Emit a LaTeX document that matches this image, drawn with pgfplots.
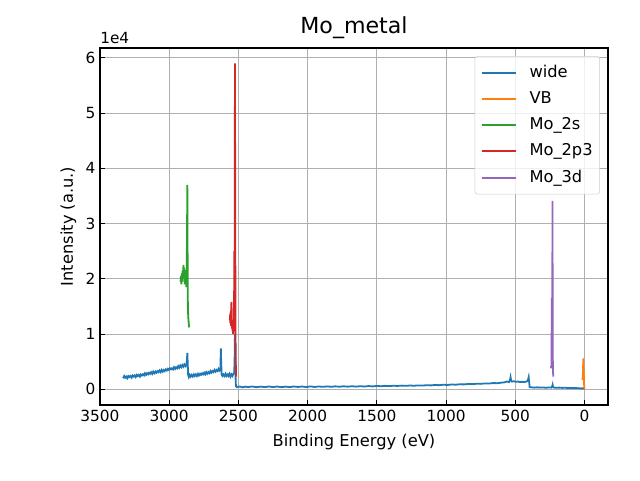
\documentclass[border=0pt]{standalone}
\usepackage{pgfplots}
\pgfplotsset{compat=1.18}
\usepackage{fontspec}
\setmainfont{DejaVu Sans}
\definecolor{c0}{HTML}{1F77B4}
\definecolor{c1}{HTML}{FF7F0E}
\definecolor{c2}{HTML}{2CA02C}
\definecolor{c3}{HTML}{D62728}
\definecolor{c4}{HTML}{9467BD}
\definecolor{gridc}{HTML}{B0B0B0}
\definecolor{legc}{HTML}{CCCCCC}
\begin{document}
\begin{tikzpicture}
\useasboundingbox (-75pt,-56.25pt) rectangle (405pt,303.75pt);
\begin{axis}[
  width=381pt, height=267.75pt, scale only axis,
  x dir=reverse,
  xmin=-170, xmax=3500,
  ymin=-0.285, ymax=6.18,
  xtick={0,500,1000,1500,2000,2500,3000,3500},
  ytick={0,1,2,3,4,5,6},
  /pgf/number format/assume math mode=true,
  /pgf/number format/set thousands separator={},
  tick label style={font=\fontsize{11.5}{13}\selectfont},
  label style={font=\fontsize{12.2}{14}\selectfont},
  xlabel style={yshift=-3pt},
  title style={font=\fontsize{16.6}{18}\selectfont, at={(0.5,1)}, anchor=base, yshift=5pt},
  title={Mo\_metal},
  xlabel={Binding Energy (eV)},
  ylabel={Intensity (a.u.)},
  tick align=inside,
  xtick pos=bottom, ytick pos=left,
  major tick length=3.6pt,
  every tick/.style={black, line width=0.8pt},
  axis line style={line width=0.8pt},
  grid=major,
  major grid style={gridc, line width=0.8pt},
  legend cell align=left,
  legend style={at={(1,1)}, anchor=north east, xshift=-6pt, yshift=-6pt,
    draw=legc, rounded corners=2pt, fill=white, fill opacity=0.8, text opacity=1,
    font=\fontsize{12.2}{14}\selectfont, row sep=4.7pt,
    inner xsep=4.3pt, inner ysep=4.8pt,
    nodes={inner xsep=1pt, inner ysep=2pt, text height=8.8pt, text depth=2.2pt},
    /tikz/every odd column/.append style={column sep=8.5pt}},
  legend image code/.code={\draw[#1, line width=1.5pt, draw opacity=1] (0pt,0pt) -- (25.7pt,0pt);},
  every axis plot/.append style={line width=1.35pt},
  clip=false,
]
\addplot[color=c0] coordinates {
(3333,0.20) (3325,0.24) (3318,0.21) (3310,0.23) (3303,0.20) (3295,0.24) (3288,0.22) (3280,0.24) (3272,0.21)
(3265,0.25) (3257,0.23) (3250,0.25) (3242,0.22) (3235,0.26) (3227,0.24) (3220,0.26) (3212,0.23) (3205,0.27)
(3197,0.25) (3190,0.27) (3182,0.25) (3175,0.29) (3167,0.26) (3160,0.29) (3152,0.27) (3145,0.30) (3137,0.28)
(3130,0.31) (3122,0.28) (3115,0.32) (3107,0.29) (3100,0.32) (3092,0.30) (3085,0.33) (3077,0.31) (3070,0.34)
(3062,0.31) (3055,0.35) (3047,0.32) (3040,0.35) (3032,0.33) (3025,0.36) (3017,0.34) (3010,0.37) (3002,0.35)
(2995,0.38) (2987,0.36) (2980,0.38) (2972,0.36) (2965,0.40) (2957,0.37) (2950,0.40) (2942,0.38) (2935,0.42)
(2927,0.39) (2920,0.43) (2912,0.40) (2905,0.44) (2897,0.41) (2890,0.45) (2882,0.42) (2876,0.45)
(2872,0.52) (2869,0.66) (2866,0.45) (2863,0.26) (2858,0.22) (2852,0.26) (2845,0.23) (2838,0.26) (2830,0.23)
(2822,0.27) (2815,0.24) (2807,0.27) (2800,0.24) (2792,0.28) (2785,0.25) (2777,0.28) (2770,0.26) (2762,0.29)
(2755,0.27) (2747,0.30) (2740,0.27) (2732,0.31) (2725,0.28) (2717,0.31) (2710,0.29) (2702,0.33) (2695,0.30)
(2687,0.33) (2680,0.31) (2672,0.35) (2665,0.32) (2657,0.35) (2650,0.33) (2643,0.37) (2636,0.34) (2630,0.36)
(2627,0.74) (2624,0.45) (2621,0.26) (2615,0.24) (2608,0.27) (2600,0.24) (2593,0.28) (2586,0.24) (2578,0.27)
(2571,0.24) (2564,0.28) (2557,0.23) (2550,0.27) (2543,0.24) (2536,0.28) (2530,0.30)
(2527,0.60) (2525,1.00) (2523,0.70) (2521,0.25) (2518,0.06) (2512,0.04)
(2490,0.05) (2470,0.035) (2450,0.048) (2430,0.04) (2400,0.05) (2370,0.038) (2340,0.048) (2310,0.04)
(2280,0.05) (2250,0.04) (2220,0.05) (2190,0.038) (2160,0.048) (2130,0.04) (2100,0.05) (2070,0.042)
(2040,0.05) (2010,0.04) (1980,0.052) (1950,0.042) (1920,0.05) (1890,0.044) (1860,0.052) (1830,0.045)
(1800,0.053) (1770,0.046) (1740,0.054) (1710,0.047) (1680,0.055) (1650,0.048) (1620,0.056) (1590,0.05)
(1560,0.058) (1530,0.052) (1500,0.06) (1470,0.055) (1440,0.062) (1410,0.057) (1380,0.064) (1350,0.06)
(1320,0.066) (1290,0.062) (1260,0.068) (1230,0.064) (1200,0.07) (1170,0.067) (1140,0.074) (1110,0.07)
(1080,0.078) (1050,0.074) (1020,0.082) (990,0.078) (960,0.086) (930,0.083) (900,0.09) (870,0.088)
(840,0.096) (810,0.093) (780,0.10) (750,0.098) (720,0.106) (690,0.104) (660,0.112) (630,0.11)
(600,0.12) (580,0.125) (560,0.14) (545,0.13) (538,0.17) (534,0.22) (530,0.16) (525,0.14)
(510,0.145) (495,0.135) (480,0.14) (465,0.13) (450,0.135) (435,0.13) (420,0.14) (410,0.15)
(403,0.22) (399,0.12) (396,0.04) (380,0.035) (360,0.03) (340,0.035) (320,0.03) (300,0.033)
(280,0.028) (260,0.032) (240,0.03) (233,0.05) (230,0.08) (227,0.04) (220,0.03) (200,0.028)
(180,0.03) (160,0.025) (140,0.028) (120,0.022) (100,0.025) (80,0.02) (60,0.022) (40,0.018)
(20,0.015) (10,0.02) (5,0.01) (0,0.005)
};
\addlegendentry{wide}
\addplot[color=c1] coordinates {
(14,0.17) (12,0.25) (10,0.32) (9,0.56) (7,0.4) (5,0.3) (3,0.1) (1,0.03) (-1,0.01) (-3,0.005)
};
\addlegendentry{VB}
\addplot[color=c2] coordinates {
(2918,1.95) (2915,2.05) (2912,1.9) (2909,2.1) (2906,1.95) (2903,2.15) (2900,2.0) (2897,2.25)
(2894,2.05) (2891,2.2) (2888,1.9) (2885,2.1) (2882,1.95) (2879,2.05) (2876,1.85) (2873,2.3)
(2871,2.9) (2869,3.7) (2867,2.4) (2865,1.45) (2862,1.3) (2859,1.2) (2856,1.12)
};
\addlegendentry{Mo\_2s}
\addplot[color=c3] coordinates {
(2562,1.25) (2560,1.35) (2558,1.2) (2556,1.4) (2554,1.15) (2552,1.5) (2550,1.58) (2548,1.3)
(2546,1.1) (2544,1.25) (2542,1.05) (2540,1.2) (2538,1.0) (2535,1.1) (2532,1.3) (2529,2.5)
(2527,1.8) (2525,5.9) (2523,3.2) (2521,1.0) (2519,0.5) (2517,0.23)
};
\addlegendentry{Mo\_2p3}
\addplot[color=c4] coordinates {
(242,0.42) (240,0.38) (238,0.45) (236,1.65) (235,0.6) (233,0.5) (231,3.41) (229,0.6) (227,0.3) (225,0.23)
};
\addlegendentry{Mo\_3d}
\node[anchor=south west, inner sep=0pt, font=\fontsize{11.5}{13}\selectfont] at (rel axis cs:0,1) [yshift=3pt] {1e4};
\end{axis}
\end{tikzpicture}
\end{document}
